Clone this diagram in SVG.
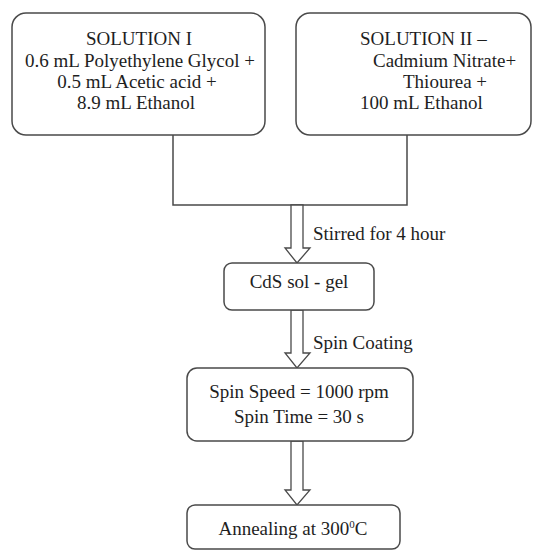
<svg xmlns="http://www.w3.org/2000/svg" width="533" height="552" viewBox="0 0 533 552">
  <style>
    .box { fill: #ffffff; stroke: #4a4a4a; stroke-width: 1.5; }
    .line { fill: none; stroke: #4a4a4a; stroke-width: 1.5; }
    .arrow { fill: #ffffff; stroke: #4a4a4a; stroke-width: 1.3; stroke-linejoin: miter; }
    text { font-family: "Liberation Serif", "Times New Roman", serif; font-size: 19px; fill: #1e1e1e; }
    .c { text-anchor: middle; }
  </style>
  <rect width="533" height="552" fill="#ffffff"/>

  <!-- connectors -->
  <g id="connectors">
    <path class="line" d="M173,135 V205 H407 V135"/>
    <path class="arrow" d="M291,205 V248 H285 L297,263 L310,248 H303 V205 Z"/>
    <path class="arrow" d="M291,310 V353 H285 L297,368 L310,353 H303 V310 Z"/>
    <path class="arrow" d="M291,441 V490 H285 L297,505 L310,490 H303 V441 Z"/>
    <text x="313" y="240">Stirred for 4 hour</text>
    <text x="313" y="349">Spin Coating</text>
  </g>

  <g id="solution1">
    <rect class="box" x="12" y="13" width="253" height="122" rx="14"/>
    <text class="c" x="139" y="45">SOLUTION I</text>
    <text class="c" x="140" y="67">0.6 mL Polyethylene Glycol +</text>
    <text class="c" x="137" y="88">0.5 mL Acetic acid +</text>
    <text class="c" x="136" y="109">8.9 mL Ethanol</text>
  </g>

  <g id="solution2">
    <rect class="box" x="296" y="13" width="235" height="122" rx="14"/>
    <text x="360" y="45">SOLUTION II –</text>
    <text x="373" y="67">Cadmium Nitrate+</text>
    <text x="403" y="88">Thiourea +</text>
    <text x="360" y="109">100 mL Ethanol</text>
  </g>

  <g id="solgel">
    <rect class="box" x="224" y="263" width="150" height="47" rx="8"/>
    <text class="c" x="299" y="288">CdS sol - gel</text>
  </g>

  <g id="spin">
    <rect class="box" x="187" y="368" width="226" height="73" rx="10"/>
    <text class="c" x="299" y="398">Spin Speed = 1000 rpm</text>
    <text class="c" x="299" y="423">Spin Time = 30 s</text>
  </g>

  <g id="anneal">
    <rect class="box" x="187" y="505" width="213" height="44" rx="8"/>
    <text class="c" x="293" y="535">Annealing at 300<tspan font-size="11" dy="-7">0</tspan><tspan dy="7">C</tspan></text>
  </g>
</svg>
